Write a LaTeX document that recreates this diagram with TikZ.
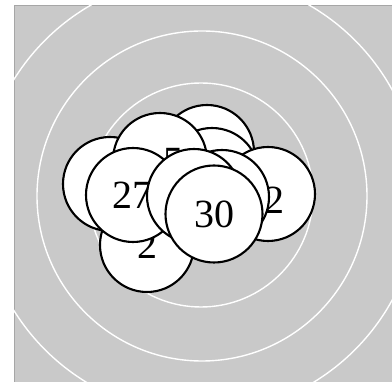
\documentclass[tikz,border=0pt]{standalone}
\usepackage{fontspec}
\setmainfont{Liberation Serif}
\definecolor{paper}{gray}{0.79}
\begin{document}
\begin{tikzpicture}[x=1pt,y=-1pt,
  ball/.style={circle,draw,fill=white,line width=2.1pt,minimum size=94pt,inner sep=0pt,font=\fontsize{40}{40}\selectfont},
  num/.style={inner sep=0pt,font=\fontsize{40}{40}\selectfont},
  ring/.style={draw=white,line width=1.4pt}]
\useasboundingbox (0,0) rectangle (392,382);
\fill[paper] (14,5) rectangle (392,382);
\draw[gray!70,line width=0.8pt] (392,5) -- (14,5) -- (14,382);
\begin{scope}
\clip (14,5) rectangle (392,382);
\draw[ring] (201,195) circle (112pt);
\draw[ring] (202,196) circle (165pt);
\draw[ring] (200,195) circle (219pt);
\end{scope}
\node[ball] (b2) at (147,245) {2};
\node[ball] (d) at (207,152) {};
\node[ball] (e) at (212,175) {};
\node[ball] (f) at (268,194) {};
\node[num] (l2) at (275,200) {2};
\node[ball] (a) at (110,184) {};
\node[ball] (c) at (160,160) {};
\node[num] (l5) at (174,162) {5};
\node[ball] (b27) at (133,195) {27};
\node[ball] (g) at (222,197) {};
\node[ball] (h) at (194,196) {};
\node[ball,minimum size=97pt] (b30) at (214,214) {30};
\end{tikzpicture}
\end{document}
